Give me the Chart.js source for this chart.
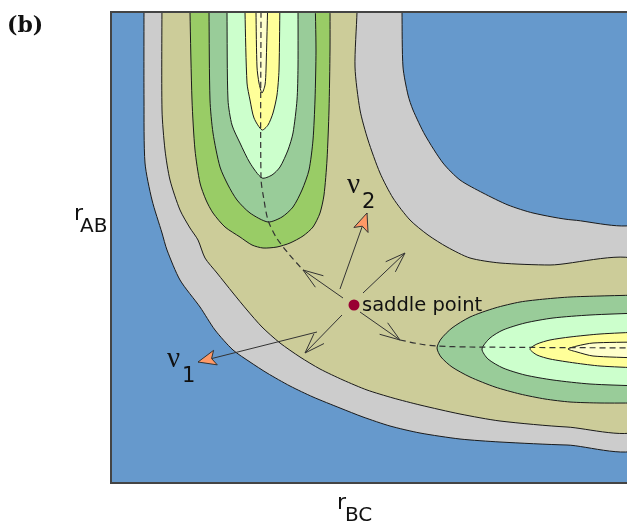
<!DOCTYPE html>
<html>
<head>
<meta charset="utf-8">
<style>
  html, body { margin: 0; padding: 0; background: #fff; }
  #wrap { position: relative; width: 627px; height: 523px; }
</style>
<script src="https://cdn.jsdelivr.net/npm/chart.js@4.4.1/dist/chart.umd.min.js"></script>
</head>
<body>
<div id="wrap"><canvas id="pes"></canvas></div>
<script>
// contour outlines in plot units: x = r_BC (0..517), y = r_AB (0..471)
// points past the plot edge only close the shapes, they get clipped
const grayOuter = [[34,490],[34,383],[35,320],[42,283],[52,250],[57,233],[70,203],[90,176],[105,153],[123,133],[140,121],[157,110],[180,97],[203,86],[230,75],[253,66],[280,57],[310,50],[350,44],[390,41],[457,38],[530,38],[530,490]];
const tanLower  = [[52,490],[52,373],[55,333],[60,303],[70,273],[80,255],[88,243],[95,225],[107,210],[123,190],[137,173],[152,156],[170,140],[190,126],[210,114],[233,103],[257,93],[283,85],[310,78],[350,69],[390,62],[457,56],[530,55]];
const tanUpper  = [[530,220],[440,218],[390,220],[360,225],[337,236],[318,248],[300,263],[283,285],[270,310],[258,343],[250,373],[245,416],[247,471],[247,490]];
const blueInner = [[292,490],[292,471],[293,416],[298,388],[303,373],[315,348],[333,320],[350,303],[373,290],[398,278],[423,270],[463,263],[530,263],[530,490]];

// r_AB channel (A + BC), top left
const wellA1 = [[80,490],[80,471],[82,383],[85,333],[90,300],[96,283],[103,270],[115,256],[130,246],[142,238],[153,235],[167,236],[180,240],[193,247],[203,256],[210,270],[214,288],[217,323],[219,373],[220,433],[220,490]];
const wellA2 = [[99,490],[99,471],[100,383],[103,350],[110,316],[118,298],[127,283],[140,270],[158,261],[172,266],[183,276],[192,293],[199,313],[203,343],[205,383],[206,433],[205,490]];
const wellA3 = [[117,490],[117,471],[118,383],[122,358],[130,340],[140,320],[152,305],[162,308],[170,316],[178,333],[183,350],[187,383],[188,416],[188,490]];
const wellA4 = [[135,490],[135,471],[137,400],[140,383],[144,365],[152,353],[158,358],[163,370],[167,388],[169,413],[170,490]];
const wellA5 = [[146,490],[146,471],[147,416],[149,400],[152,390],[155,398],[156,413],[158,490]];

// r_BC channel (AB + C), bottom right
const wellB1 = [[530,188],[490,187],[460,186],[435,184],[410,181],[385,175],[360,166],[342,155],[331,144],[327,135],[331,126],[342,116],[360,106],[385,96],[410,89],[435,84],[460,81],[490,80],[530,80]];
const wellB2 = [[530,170],[480,168],[443,165],[415,160],[393,153],[380,145],[372,134],[378,124],[393,115],[415,108],[443,103],[480,99],[530,97]];
const wellB3 = [[530,151],[490,149],[460,146],[440,143],[427,139],[420,134],[427,128],[440,124],[465,120],[490,117],[530,115]];
const wellB4 = [[530,141],[483,140],[467,137],[458,134],[467,131],[483,127],[530,125]];

// minimum energy path, broken around the saddle
const pathIn  = [[151,471],[151,305],[154,283],[158,263],[166,246],[178,230],[193,213]];
const pathOut = [[290,143],[310,139],[327,137],[360,136],[530,135]];

const saddle = [244,178];
// [from, tip]
const flowArrows = [[[233,185],[193,213]], [[253,190],[295,230]], [[250,171],[290,143]], [[232,168],[195,130]]];
const nuArrows   = [[[230,194],[257,270]], [[207,151],[88,121]]];
const nuLabels   = [['2',[237,290]], ['1',[57,116]]];

const FILL = { blue:'#6699cc', gray:'#cccccc', tan:'#cccc99', green:'#99cc66', sage:'#99cc99', mint:'#ccffcc', yellow:'#ffff99', cream:'#ffffcc' };

const layers = [
  [grayOuter, FILL.gray],
  [tanLower.concat(tanUpper), FILL.tan],
  [blueInner, FILL.blue],
  [wellA1, FILL.green], [wellA2, FILL.sage], [wellA3, FILL.mint], [wellA4, FILL.yellow], [wellA5, FILL.cream],
  [wellB1, FILL.sage], [wellB2, FILL.mint], [wellB3, FILL.yellow], [wellB4, FILL.cream]
];

const xy = pts => pts.map(([x, y]) => ({ x, y }));
const datasets = [];
layers.forEach(([pts, col]) => datasets.push({
  data: xy(pts), backgroundColor: col, borderColor: '#1a1a1a', borderWidth: 1,
  fill: 'shape', pointRadius: 0, tension: 0.25, clip: 0
}));
[pathIn, pathOut].forEach(pts => datasets.push({
  data: xy(pts), borderColor: '#333', borderWidth: 1.2, borderDash: [6, 4],
  fill: false, pointRadius: 0, tension: 0.3, clip: 0
}));
flowArrows.concat(nuArrows).forEach(([a, b]) => datasets.push({
  data: xy([a, b]), borderColor: '#333', borderWidth: 1, fill: false, pointRadius: 0, clip: 0
}));
datasets.push({
  data: xy([saddle]), showLine: false, pointRadius: 5.5, pointBackgroundColor: '#990033',
  pointBorderColor: '#990033', pointBorderWidth: 0
});
// painter's order: first dataset at the bottom
datasets.forEach((d, i) => d.order = 100 - i);

function head(ctx, p0, p1, len, hw, notch, filled) {
  const dx = p1.x - p0.x, dy = p1.y - p0.y, L = Math.hypot(dx, dy);
  const ux = dx / L, uy = dy / L, nx = -uy, ny = ux;
  const bx = p1.x - ux * len, by = p1.y - uy * len;
  ctx.beginPath();
  if (filled) {
    ctx.moveTo(p1.x, p1.y);
    ctx.lineTo(bx + nx * hw, by + ny * hw);
    ctx.lineTo(p1.x - ux * (len - notch), p1.y - uy * (len - notch));
    ctx.lineTo(bx - nx * hw, by - ny * hw);
    ctx.closePath();
    ctx.fillStyle = '#ff9966';
    ctx.fill();
    ctx.strokeStyle = '#333';
    ctx.lineWidth = 1;
    ctx.stroke();
  } else {
    ctx.moveTo(bx + nx * hw, by + ny * hw);
    ctx.lineTo(p1.x, p1.y);
    ctx.lineTo(bx - nx * hw, by - ny * hw);
    ctx.strokeStyle = '#333';
    ctx.lineWidth = 1;
    ctx.stroke();
  }
}

const decor = {
  id: 'decor',
  beforeDatasetsDraw(chart) {
    const { ctx, chartArea: a } = chart;
    ctx.save();
    ctx.fillStyle = FILL.blue;
    ctx.fillRect(a.left, a.top, a.right - a.left, a.bottom - a.top);
    ctx.restore();
  },
  afterDatasetsDraw(chart) {
    const { ctx, chartArea: a, scales: { x, y } } = chart;
    const px = ([vx, vy]) => ({ x: x.getPixelForValue(vx), y: y.getPixelForValue(vy) });
    ctx.save();
    flowArrows.forEach(([f, t]) => head(ctx, px(f), px(t), 20, 7, 0, false));
    nuArrows.forEach(([f, t]) => head(ctx, px(f), px(t), 18, 7.5, 4, true));

    ctx.fillStyle = '#111';
    ctx.textBaseline = 'alphabetic';
    nuLabels.forEach(([sub, p]) => {
      const q = px(p);
      ctx.font = '29px "Liberation Serif"';
      ctx.fillText('\u03bd', q.x, q.y);
      ctx.font = '21px "DejaVu Sans"';
      ctx.fillText(sub, q.x + 15, q.y + 15);
    });
    const s = px(saddle);
    ctx.font = '19.5px "DejaVu Sans"';
    ctx.fillText('saddle point', s.x + 8, s.y + 6);

    // frame
    ctx.strokeStyle = '#444';
    ctx.lineWidth = 2;
    ctx.beginPath();
    ctx.moveTo(a.right + 2, a.top);
    ctx.lineTo(a.left + 1, a.top);
    ctx.lineTo(a.left + 1, a.bottom);
    ctx.lineTo(a.right + 2, a.bottom);
    ctx.stroke();

    // axis titles and panel tag
    ctx.font = '22px "DejaVu Sans"';
    ctx.fillText('r', 74, 220);
    ctx.fillText('r', 337, 509);
    ctx.font = '20px "DejaVu Sans"';
    ctx.fillText('AB', 80, 232);
    ctx.fillText('BC', 345, 521);
    ctx.font = 'bold 22px "DejaVu Serif"';
    ctx.fillText('(b)', 7, 32);
    ctx.restore();
  }
};

new Chart(document.getElementById('pes'), {
  type: 'line',
  data: { datasets },
  options: {
    responsive: true, maintainAspectRatio: false, animation: false, events: [],
    layout: { autoPadding: false, padding: { left: 110, top: 12, right: 0, bottom: 40 } },
    elements: { line: { capBezierPoints: false } },
    plugins: { legend: { display: false }, tooltip: { enabled: false } },
    scales: {
      x: { type: 'linear', min: 0, max: 517, display: false },
      y: { type: 'linear', min: 0, max: 471, display: false }
    }
  },
  plugins: [decor]
});
</script>
</body>
</html>
